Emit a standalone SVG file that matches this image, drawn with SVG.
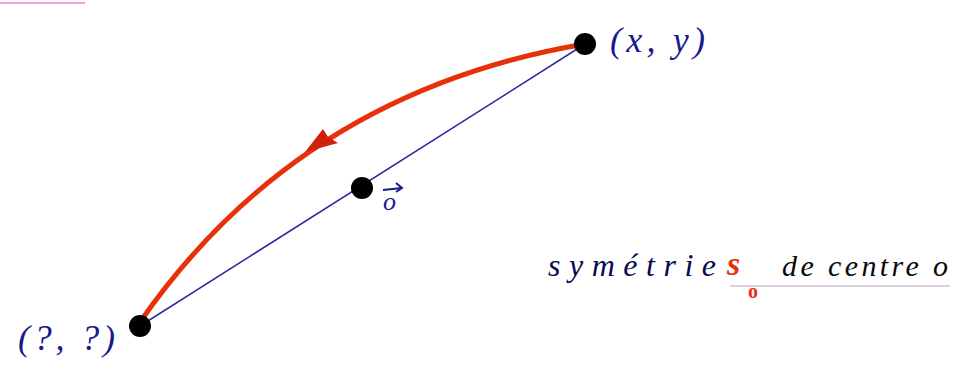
<svg xmlns="http://www.w3.org/2000/svg" width="967" height="383" viewBox="0 0 967 383">
<style>
.lbl{font-family:"Liberation Serif","DejaVu Serif",serif;font-style:italic;fill:#1a1a8c}
.pt{fill:#000}
</style>
<rect width="967" height="383" fill="#fff"/>
<line x1="0" y1="3" x2="85" y2="3" stroke="#f0a0d0" stroke-width="2"/>
<g id="connectors">
<line x1="140" y1="326" x2="585" y2="44" stroke="#2a2aa0" stroke-width="1.5"/>
<path d="M585,44 Q300,92 140,322" fill="none" stroke="#e8300a" stroke-width="5" stroke-linecap="round"/>
<path d="M305,152 L323,129 L328,137 L338,143 z" fill="#d02008"/>
</g>
<g id="node-xy">
<circle class="pt" cx="585" cy="44" r="11"/>
<text class="lbl" x="610" y="52" font-size="36" textLength="95">(x, y)</text>
</g>
<g id="node-o">
<circle class="pt" cx="362" cy="188" r="11"/>
<text class="lbl" x="383" y="210" font-size="26">o</text>
<path d="M383,190 L402,188 M396,183 L402,188 L396,192" stroke="#1a1a8c" stroke-width="2" fill="none"/>
</g>
<g id="node-qq">
<circle class="pt" cx="140" cy="326" r="11"/>
<text class="lbl" x="18" y="350" font-size="36" textLength="97">(?, ?)</text>
</g>
<g id="caption">
<text x="548" y="276" font-size="32" font-family="Liberation Serif,serif" font-style="italic" fill="#0a0a50" textLength="168">symétrie</text>
<text x="727" y="275" font-size="34" font-family="Liberation Serif,serif" font-style="italic" font-weight="bold" fill="#e8300a">s</text>
<text x="748" y="298" font-size="20" font-family="Liberation Serif,serif" font-weight="bold" fill="#e8300a">o</text>
<text x="782" y="276" font-size="30" font-family="Liberation Serif,serif" font-style="italic" fill="#0a0a0a" textLength="166">de centre o</text>
<line x1="730" y1="286" x2="950" y2="286" stroke="#c8a0c8" stroke-width="1.2"/>
</g>
</svg>
